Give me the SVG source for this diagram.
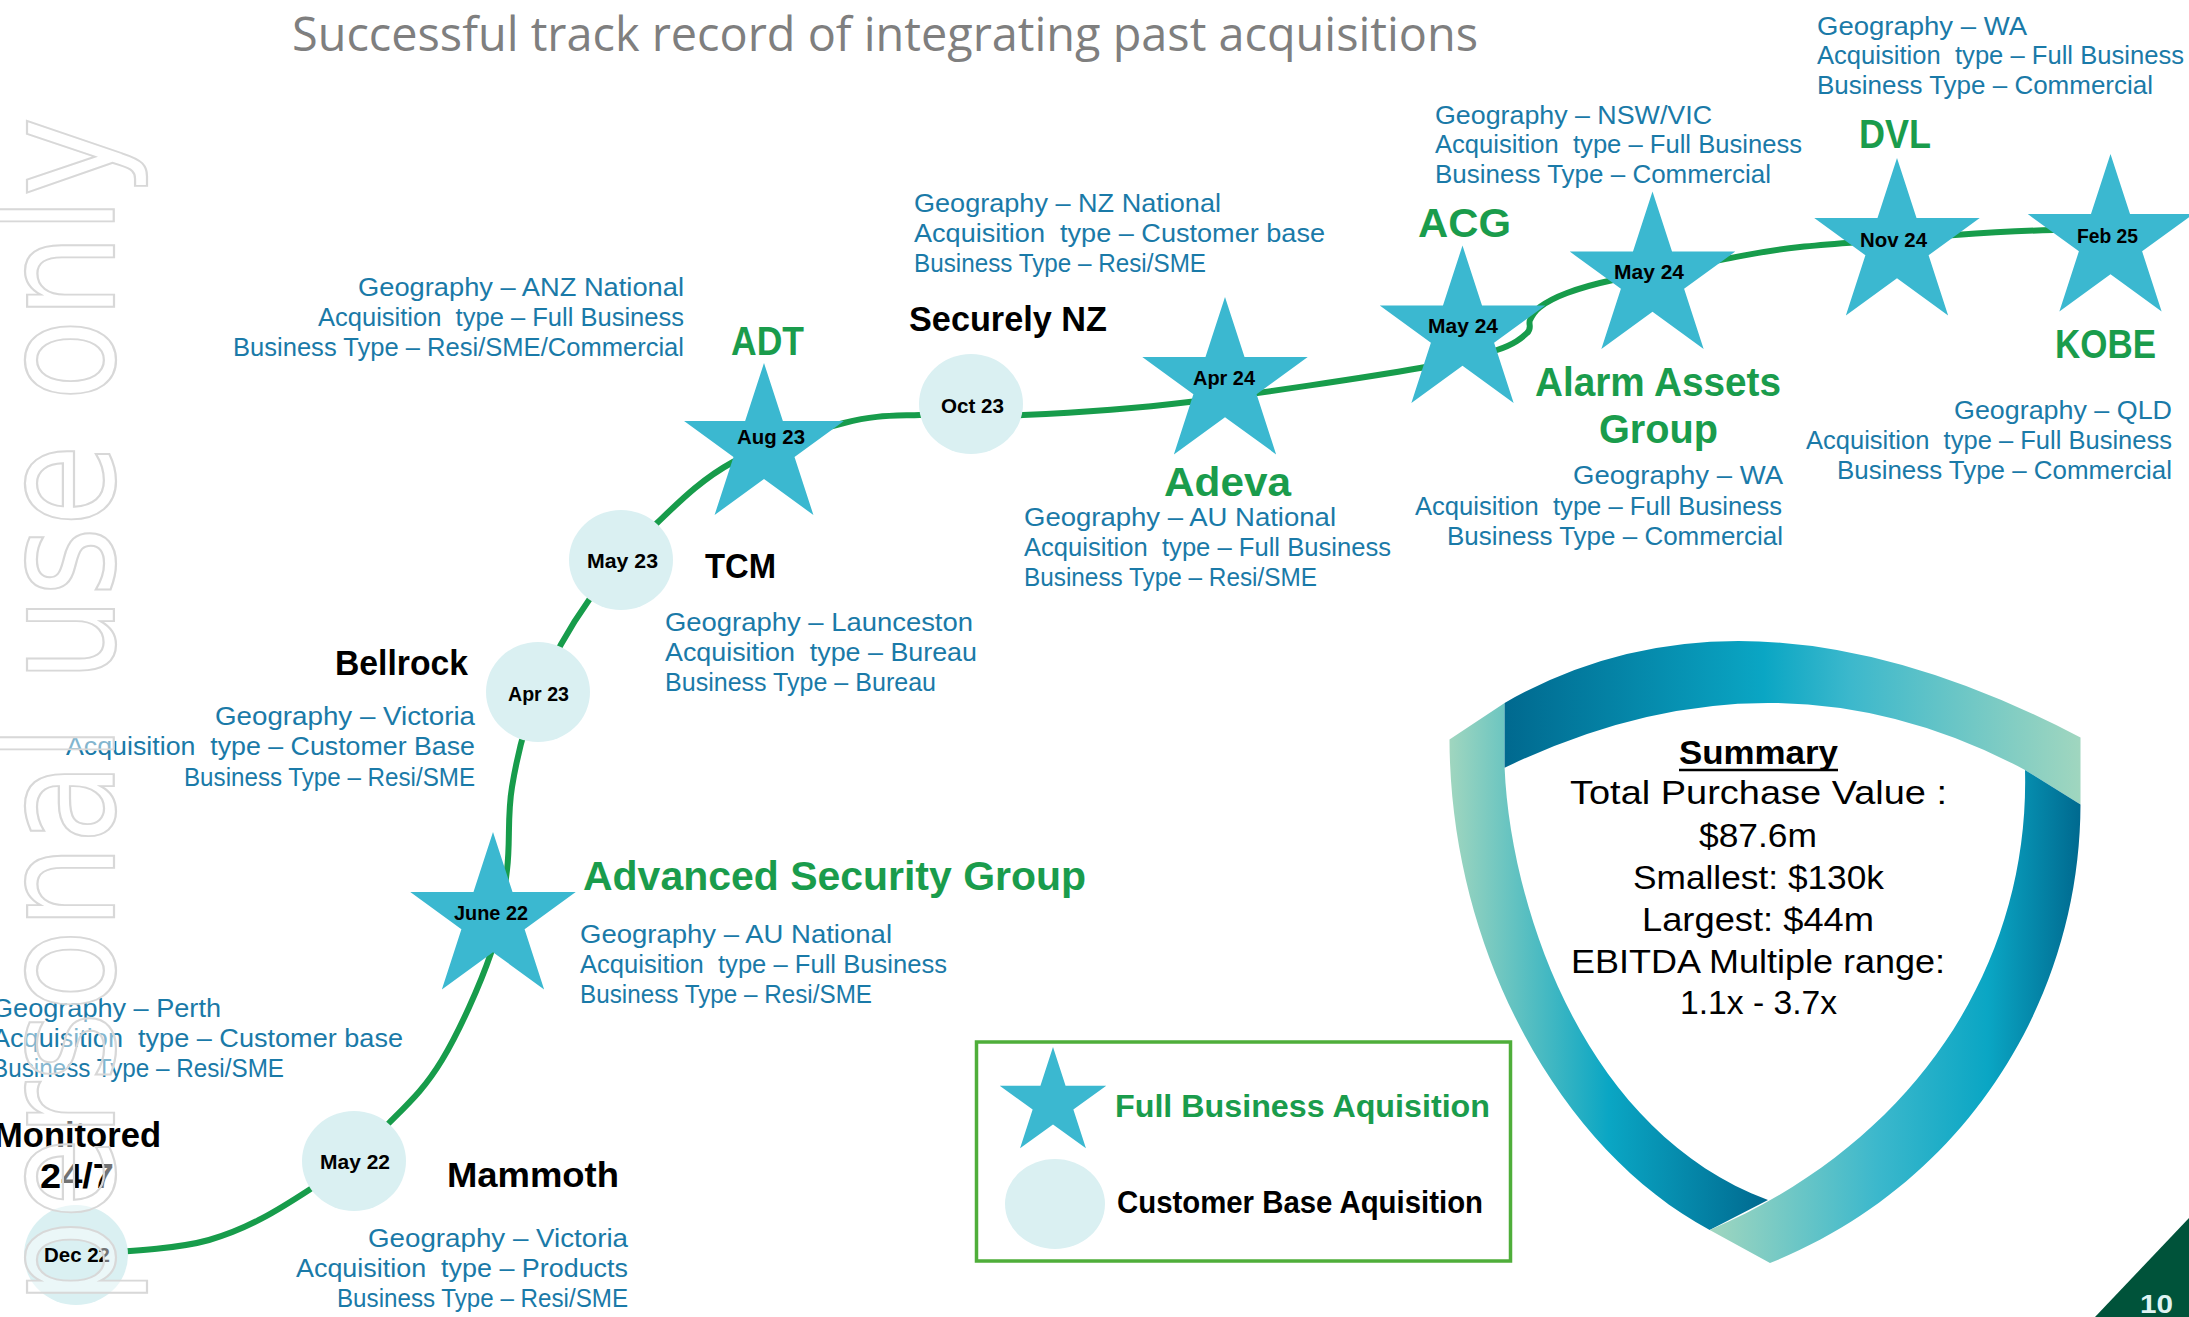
<svg xmlns="http://www.w3.org/2000/svg" xmlns:xlink="http://www.w3.org/1999/xlink" width="2189" height="1317" viewBox="0 0 2189 1317" xml:space="preserve">
<style>
text { font-family: "Liberation Sans", Arial, sans-serif; }
.title { font-family: "Open Sans", "Liberation Sans", sans-serif; font-size: 48px; fill: #7f7f7f; }
.info { font-size: 25px; fill: #1a7aa8; white-space: pre; }
.gh { font-size: 40px; font-weight: bold; fill: #1a9c4c; }
.bh { font-size: 35px; font-weight: bold; fill: #000000; }
.dt { font-size: 20px; font-weight: bold; fill: #000000; }
.sum { font-size: 34px; fill: #000000; }
.leg { font-size: 32px; font-weight: bold; }
.star { fill: #3bb8d0; }
.cb { fill: #daf0f2; }
.wm { font-family: "DejaVu Sans", sans-serif; font-size: 158px; fill: #ffffff; fill-opacity: 0.45; stroke: #d8d8d8; stroke-width: 2.2; }
</style>
<defs>
<path id="starShape" d="M0,-87 L19.53,-26.88 L82.74,-26.88 L31.6,10.27 L51.14,70.38 L0,33.23 L-51.14,70.38 L-31.6,10.27 L-82.74,-26.88 L-19.53,-26.88 Z"/>
<linearGradient id="gTop" x1="0" y1="0" x2="1" y2="0">
<stop offset="0" stop-color="#00698f"/>
<stop offset="0.45" stop-color="#0aa6c4"/>
<stop offset="0.6" stop-color="#3cb8cc"/>
<stop offset="1" stop-color="#a0d6bf"/>
</linearGradient>
<linearGradient id="gLeft" x1="0" y1="0" x2="1" y2="0">
<stop offset="0" stop-color="#a0d6bf"/>
<stop offset="0.5" stop-color="#0aa6c4"/>
<stop offset="1" stop-color="#00698f"/>
</linearGradient>
<linearGradient id="gRight" x1="0" y1="0" x2="1" y2="0">
<stop offset="0" stop-color="#a0d6bf"/>
<stop offset="0.45" stop-color="#3cb8cc"/>
<stop offset="0.75" stop-color="#0aa6c4"/>
<stop offset="1" stop-color="#00698f"/>
</linearGradient>
</defs>
<rect x="0" y="0" width="2189" height="1317" fill="#ffffff"/>

<text class="title" x="292" y="51" textLength="1186" lengthAdjust="spacingAndGlyphs">Successful track record of integrating past acquisitions</text>

<g id="connectors">
<path fill="none" stroke="#179c4b" stroke-width="6" stroke-linecap="round" stroke-linejoin="round" d="M76,1255 C98,1252.5 170,1251 209,1240 C248,1229 279,1209.5 309,1190 C339,1170.5 367,1145 389,1123 C411,1101 425,1088 442,1060 C459,1032 480,985 491,953 C502,921 503.5,898 507,870 C510.5,842 507,817 512,787 C517,757 525,723 538,692 C551,661 569,628 589,600 C609,572 633,546 657,523 C681,500 702,479 733,462 C764,445 813,431 844,423 C875,415 890,416 920,415 C950,414 978,417 1023,415 C1068,413 1123,410 1189,402 C1255,394 1369,377 1420,368 C1471,359 1479,356 1497,350 C1515,344 1521.5,338 1527,333 C1532.5,328 1528,324.3 1530,320 C1532,315.7 1534,311.5 1540,307 C1546,302.5 1555,297.5 1567,293 C1579,288.5 1587.5,285.5 1613,280 C1638.5,274.5 1689,265.5 1720,260 C1751,254.5 1761,251 1800,247 C1839,243 1913,238 1955,235 C1997,232 2027,230.7 2053,230 C2079,229.3 2100.5,231 2110,231"/>
</g>

<g id="node-dec22"><ellipse class="cb" cx="76" cy="1255" rx="52" ry="50"/><text class="dt" x="44" y="1262" textLength="66" lengthAdjust="spacingAndGlyphs">Dec 22</text></g>
<g id="node-may22"><ellipse class="cb" cx="354" cy="1161" rx="52" ry="50"/><text class="dt" x="320" y="1169" textLength="70" lengthAdjust="spacingAndGlyphs">May 22</text></g>
<g id="node-jun22"><use xlink:href="#starShape" class="star" transform="translate(493,919)"/><text class="dt" x="454" y="920" textLength="74" lengthAdjust="spacingAndGlyphs">June 22</text></g>
<g id="node-apr23"><ellipse class="cb" cx="538" cy="692" rx="52" ry="50"/><text class="dt" x="508" y="701" textLength="61" lengthAdjust="spacingAndGlyphs">Apr 23</text></g>
<g id="node-may23"><ellipse class="cb" cx="621" cy="560" rx="52" ry="50"/><text class="dt" x="587" y="568" textLength="71" lengthAdjust="spacingAndGlyphs">May 23</text></g>
<g id="node-aug23"><use xlink:href="#starShape" class="star" transform="translate(764,447) scale(0.966)"/><text class="dt" x="737" y="444" textLength="68" lengthAdjust="spacingAndGlyphs">Aug 23</text></g>
<g id="node-oct23"><ellipse class="cb" cx="971" cy="404" rx="52" ry="50"/><text class="dt" x="941" y="413" textLength="63" lengthAdjust="spacingAndGlyphs">Oct 23</text></g>
<g id="node-apr24"><use xlink:href="#starShape" class="star" transform="translate(1225,384)"/><text class="dt" x="1193" y="385" textLength="62" lengthAdjust="spacingAndGlyphs">Apr 24</text></g>
<g id="node-may24-acg"><use xlink:href="#starShape" class="star" transform="translate(1462.5,332.5)"/><text class="dt" x="1428" y="333" textLength="70" lengthAdjust="spacingAndGlyphs">May 24</text></g>
<g id="node-may24-aag"><use xlink:href="#starShape" class="star" transform="translate(1652.5,278.5)"/><text class="dt" x="1614" y="279" textLength="70" lengthAdjust="spacingAndGlyphs">May 24</text></g>
<g id="node-nov24"><use xlink:href="#starShape" class="star" transform="translate(1897,245)"/><text class="dt" x="1860" y="247" textLength="67" lengthAdjust="spacingAndGlyphs">Nov 24</text></g>
<g id="node-feb25"><use xlink:href="#starShape" class="star" transform="translate(2110.5,241)"/><text class="dt" x="2077" y="243" textLength="61" lengthAdjust="spacingAndGlyphs">Feb 25</text></g>

<g id="label-monitored">
<text class="bh" x="-6" y="1147" textLength="167" lengthAdjust="spacingAndGlyphs">Monitored</text>
<text class="bh" x="40" y="1188" textLength="74" lengthAdjust="spacingAndGlyphs">24/7</text>
<text class="info" x="-8" y="1017" textLength="229" lengthAdjust="spacingAndGlyphs">Geography – Perth</text>
<text class="info" x="-8" y="1047" textLength="411" lengthAdjust="spacingAndGlyphs">Acquisition  type – Customer base</text>
<text class="info" x="-8" y="1077" textLength="292" lengthAdjust="spacingAndGlyphs">Business Type – Resi/SME</text>
</g>
<g id="label-mammoth">
<text class="bh" x="447" y="1187" textLength="172" lengthAdjust="spacingAndGlyphs">Mammoth</text>
<text class="info" x="368" y="1247" textLength="260" lengthAdjust="spacingAndGlyphs">Geography – Victoria</text>
<text class="info" x="296" y="1277" textLength="332" lengthAdjust="spacingAndGlyphs">Acquisition  type – Products</text>
<text class="info" x="337" y="1307" textLength="291" lengthAdjust="spacingAndGlyphs">Business Type – Resi/SME</text>
</g>
<g id="label-asg">
<text class="gh" x="583" y="890" textLength="503" lengthAdjust="spacingAndGlyphs">Advanced Security Group</text>
<text class="info" x="580" y="943" textLength="312" lengthAdjust="spacingAndGlyphs">Geography – AU National</text>
<text class="info" x="580" y="973" textLength="367" lengthAdjust="spacingAndGlyphs">Acquisition  type – Full Business</text>
<text class="info" x="580" y="1003" textLength="292" lengthAdjust="spacingAndGlyphs">Business Type – Resi/SME</text>
</g>
<g id="label-bellrock">
<text class="bh" x="335" y="675" textLength="133" lengthAdjust="spacingAndGlyphs">Bellrock</text>
<text class="info" x="215" y="725" textLength="260" lengthAdjust="spacingAndGlyphs">Geography – Victoria</text>
<text class="info" x="66" y="755" textLength="409" lengthAdjust="spacingAndGlyphs">Acquisition  type – Customer Base</text>
<text class="info" x="184" y="786" textLength="291" lengthAdjust="spacingAndGlyphs">Business Type – Resi/SME</text>
</g>
<g id="label-tcm">
<text class="bh" x="705" y="578" textLength="71" lengthAdjust="spacingAndGlyphs">TCM</text>
<text class="info" x="665" y="631" textLength="308" lengthAdjust="spacingAndGlyphs">Geography – Launceston</text>
<text class="info" x="665" y="661" textLength="312" lengthAdjust="spacingAndGlyphs">Acquisition  type – Bureau</text>
<text class="info" x="665" y="691" textLength="271" lengthAdjust="spacingAndGlyphs">Business Type – Bureau</text>
</g>
<g id="label-adt">
<text class="gh" x="731" y="355" textLength="73" lengthAdjust="spacingAndGlyphs">ADT</text>
<text class="info" x="358" y="296" textLength="326" lengthAdjust="spacingAndGlyphs">Geography – ANZ National</text>
<text class="info" x="318" y="326" textLength="366" lengthAdjust="spacingAndGlyphs">Acquisition  type – Full Business</text>
<text class="info" x="233" y="356" textLength="451" lengthAdjust="spacingAndGlyphs">Business Type – Resi/SME/Commercial</text>
</g>
<g id="label-securely">
<text class="bh" x="909" y="331" textLength="198" lengthAdjust="spacingAndGlyphs">Securely NZ</text>
<text class="info" x="914" y="212" textLength="307" lengthAdjust="spacingAndGlyphs">Geography – NZ National</text>
<text class="info" x="914" y="242" textLength="411" lengthAdjust="spacingAndGlyphs">Acquisition  type – Customer base</text>
<text class="info" x="914" y="272" textLength="292" lengthAdjust="spacingAndGlyphs">Business Type – Resi/SME</text>
</g>
<g id="label-adeva">
<text class="gh" x="1164" y="496" textLength="127" lengthAdjust="spacingAndGlyphs">Adeva</text>
<text class="info" x="1024" y="526" textLength="312" lengthAdjust="spacingAndGlyphs">Geography – AU National</text>
<text class="info" x="1024" y="556" textLength="367" lengthAdjust="spacingAndGlyphs">Acquisition  type – Full Business</text>
<text class="info" x="1024" y="586" textLength="293" lengthAdjust="spacingAndGlyphs">Business Type – Resi/SME</text>
</g>
<g id="label-acg">
<text class="gh" x="1418" y="237" textLength="93" lengthAdjust="spacingAndGlyphs">ACG</text>
<text class="info" x="1435" y="124" textLength="277" lengthAdjust="spacingAndGlyphs">Geography – NSW/VIC</text>
<text class="info" x="1435" y="153" textLength="367" lengthAdjust="spacingAndGlyphs">Acquisition  type – Full Business</text>
<text class="info" x="1435" y="183" textLength="336" lengthAdjust="spacingAndGlyphs">Business Type – Commercial</text>
</g>
<g id="label-aag">
<text class="gh" x="1535" y="396" textLength="246" lengthAdjust="spacingAndGlyphs">Alarm Assets</text>
<text class="gh" x="1599" y="443" textLength="119" lengthAdjust="spacingAndGlyphs">Group</text>
<text class="info" x="1573" y="484" textLength="210" lengthAdjust="spacingAndGlyphs">Geography – WA</text>
<text class="info" x="1415" y="515" textLength="367" lengthAdjust="spacingAndGlyphs">Acquisition  type – Full Business</text>
<text class="info" x="1447" y="545" textLength="336" lengthAdjust="spacingAndGlyphs">Business Type – Commercial</text>
</g>
<g id="label-dvl">
<text class="gh" x="1859" y="148" textLength="72" lengthAdjust="spacingAndGlyphs">DVL</text>
<text class="info" x="1817" y="35" textLength="210" lengthAdjust="spacingAndGlyphs">Geography – WA</text>
<text class="info" x="1817" y="64" textLength="367" lengthAdjust="spacingAndGlyphs">Acquisition  type – Full Business</text>
<text class="info" x="1817" y="94" textLength="336" lengthAdjust="spacingAndGlyphs">Business Type – Commercial</text>
</g>
<g id="label-kobe">
<text class="gh" x="2055" y="358" textLength="101" lengthAdjust="spacingAndGlyphs">KOBE</text>
<text class="info" x="1954" y="419" textLength="218" lengthAdjust="spacingAndGlyphs">Geography – QLD</text>
<text class="info" x="1806" y="449" textLength="366" lengthAdjust="spacingAndGlyphs">Acquisition  type – Full Business</text>
<text class="info" x="1837" y="479" textLength="335" lengthAdjust="spacingAndGlyphs">Business Type – Commercial</text>
</g>

<g id="legend">
<rect x="976.5" y="1042" width="534" height="219" fill="none" stroke="#4fae3a" stroke-width="3.5"/>
<use xlink:href="#starShape" class="star" transform="translate(1053,1103) scale(0.644)"/>
<ellipse class="cb" cx="1055" cy="1204" rx="50" ry="45"/>
<text class="leg" x="1115" y="1117" fill="#1a9c4c" textLength="375" lengthAdjust="spacingAndGlyphs">Full Business Aquisition</text>
<text class="leg" x="1117" y="1213" fill="#000000" textLength="366" lengthAdjust="spacingAndGlyphs">Customer Base Aquisition</text>
</g>

<g id="summary">
<path fill="url(#gLeft)" d="M1449.5,739.4 L1504.6,702.9 L1504.6,767.8 C1510,900 1580,1130 1768,1200 L1709.7,1230 C1560,1150 1450,950 1449.5,739.4 Z"/>
<path fill="url(#gTop)" d="M1504.6,702.9 Q1747.5,563.8 2080.5,737.4 L2080.5,804.4 L2025,769.9 Q1775,637 1504.6,767.8 Z"/>
<path fill="url(#gRight)" d="M2025,769.9 L2080.5,804.4 C2080,1000 1965,1185 1770,1263 L1709.7,1230 C1920,1140 2030,960 2025,769.9 Z"/>
<text class="sum" x="1679" y="764" font-weight="bold" textLength="159" lengthAdjust="spacingAndGlyphs">Summary</text>
<line x1="1679" y1="770" x2="1838" y2="770" stroke="#000000" stroke-width="2.5"/>
<text class="sum" x="1570" y="804" textLength="377" lengthAdjust="spacingAndGlyphs">Total Purchase Value :</text>
<text class="sum" x="1699" y="847" textLength="118" lengthAdjust="spacingAndGlyphs">$87.6m</text>
<text class="sum" x="1633" y="889" textLength="251" lengthAdjust="spacingAndGlyphs">Smallest: $130k</text>
<text class="sum" x="1642" y="931" textLength="232" lengthAdjust="spacingAndGlyphs">Largest: $44m</text>
<text class="sum" x="1571" y="973" textLength="374" lengthAdjust="spacingAndGlyphs">EBITDA Multiple range:</text>
<text class="sum" x="1680" y="1014" textLength="157" lengthAdjust="spacingAndGlyphs">1.1x - 3.7x</text>
</g>

<g id="page-number">
<polygon points="2095,1317 2189,1218 2189,1317" fill="#00533a"/>
<text x="2140" y="1313" font-size="25" font-weight="bold" fill="#dff3f3" textLength="33" lengthAdjust="spacingAndGlyphs">10</text>
</g>

<text class="wm" transform="translate(114,1305) rotate(-90)" x="0" y="0" textLength="1188" lengthAdjust="spacingAndGlyphs">personal use only</text>
</svg>
